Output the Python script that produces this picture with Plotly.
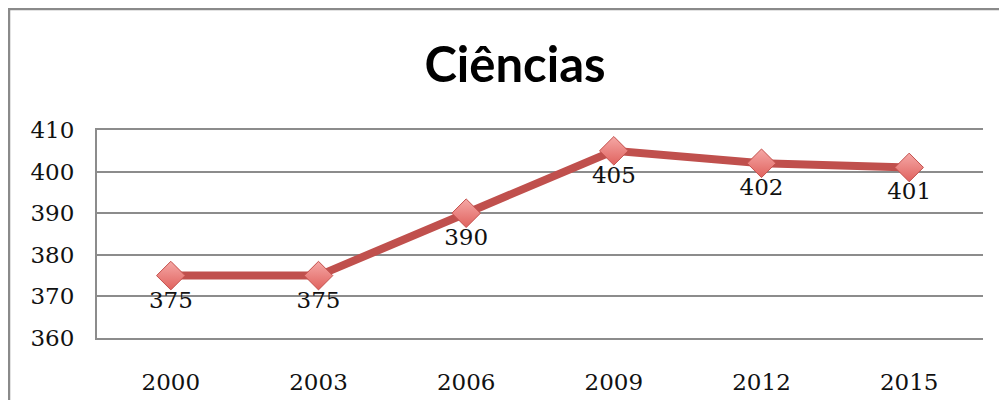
import plotly.graph_objects as go

years = ["2000", "2003", "2006", "2009", "2012", "2015"]
scores = [375, 375, 390, 405, 402, 401]
y_ticks = [360, 370, 380, 390, 400, 410]
title_text = "Ciências"

W, H = 999, 392
L, T, PW, PH = 89, 122, 886, 208

fig = go.Figure()
fig.add_trace(go.Scatter(
    x=years, y=scores, mode="lines+markers+text",
    text=[str(v) for v in scores], textposition="bottom center",
    textfont=dict(family="DejaVu Serif", size=23, color="#111"),
    line=dict(color="#c0504d", width=8),
    marker=dict(symbol="diamond", size=22, color="#f5a8a6",
                gradient=dict(type="vertical", color="#e0625e"),
                line=dict(color="#c4504c", width=1)),
    cliponaxis=False, showlegend=False,
))

fig.update_layout(
    width=W, height=H,
    margin=dict(l=L, r=W - L - PW, t=T, b=H - T - PH, autoexpand=False),
    paper_bgcolor="white", plot_bgcolor="white",
    title=dict(text="<b>" + title_text + "</b>", x=(515 - 8) / W, xanchor="center",
               y=1 - 57 / H, yanchor="middle",
               font=dict(family="Lato", size=49, color="#000")),
    xaxis=dict(type="category", range=[-0.5, 5.5], showgrid=False,
               showline=True, mirror=True, linecolor="#8c8c8c", linewidth=2,
               ticks="", ticklabelstandoff=22, automargin=False,
               tickfont=dict(family="DejaVu Serif", size=23, color="#111")),
    yaxis=dict(range=[360, 410], tickvals=y_ticks, showgrid=True,
               gridcolor="#8c8c8c", gridwidth=2, zeroline=False,
               showline=True, linecolor="#8c8c8c", linewidth=2,
               ticks="", ticklabelstandoff=16, automargin=False,
               tickfont=dict(family="DejaVu Serif", size=23, color="#111")),
    shapes=[dict(type="rect", xref="paper", yref="paper",
                 x0=(1 - L) / PW, x1=1.2, y0=-0.6, y1=(T + PH - 1) / PH,
                 line=dict(color="#8a8a8a", width=2.5), layer="below")],
)

fig.write_html("out.html")
